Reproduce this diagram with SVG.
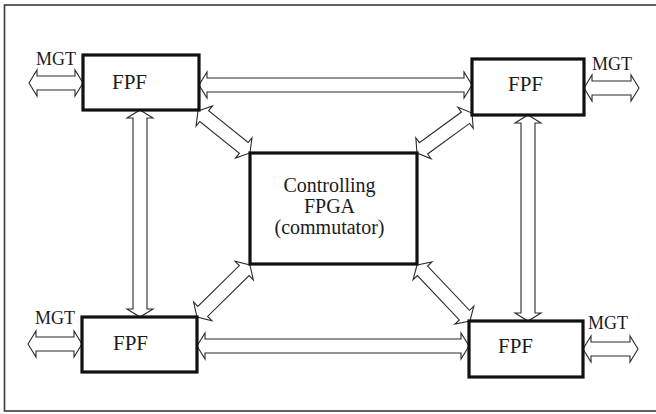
<svg xmlns="http://www.w3.org/2000/svg" width="656" height="414" viewBox="0 0 656 414">
  <style>
    .frame { fill: #ffffff; stroke: #3a3a3a; stroke-width: 1.6; }
    .box { fill: #ffffff; stroke: #111111; stroke-width: 3.2; }
    .lbl { font-family: "Liberation Serif", "Times New Roman", serif; fill: #1a1a1a; }
    .big { font-size: 21px; }
    .mid { font-size: 20px; }
    .mgt { font-size: 18px; }
    .arr { fill: #ffffff; stroke: #2a2a2a; stroke-width: 1.1; stroke-linejoin: miter; }
  </style>

  <!-- outer frame (right edge runs off the canvas) -->
  <rect class="frame" x="4.5" y="5" width="660" height="406"/>

  <!-- hollow double-headed connectors: tip at origin, along +x; head 8 long, 13 half-wide, shaft 7 half-wide -->
  <g id="connectors">
    <!-- MGT links -->
    <path class="arr" transform="translate(29,83)" d="M0,0 L8,-13 L8,-7 L46,-7 L46,-13 L54,0 L46,13 L46,7 L8,7 L8,13 Z"/>
    <path class="arr" transform="translate(584,88)" d="M0,0 L8,-13 L8,-7 L47,-7 L47,-13 L55,0 L47,13 L47,7 L8,7 L8,13 Z"/>
    <path class="arr" transform="translate(28,344)" d="M0,0 L8,-13 L8,-7 L46,-7 L46,-13 L54,0 L46,13 L46,7 L8,7 L8,13 Z"/>
    <path class="arr" transform="translate(583,349)" d="M0,0 L8,-13 L8,-7 L47,-7 L47,-13 L55,0 L47,13 L47,7 L8,7 L8,13 Z"/>
    <!-- FPF to FPF, horizontal -->
    <path class="arr" transform="translate(199,85)" d="M0,0 L8,-13 L8,-7 L265,-7 L265,-13 L273,0 L265,13 L265,7 L8,7 L8,13 Z"/>
    <path class="arr" transform="translate(197,346)" d="M0,0 L8,-13 L8,-7 L264,-7 L264,-13 L272,0 L264,13 L264,7 L8,7 L8,13 Z"/>
    <!-- FPF to FPF, vertical -->
    <path class="arr" transform="translate(140,110) rotate(90)" d="M0,0 L8,-13 L8,-7 L199,-7 L199,-13 L207,0 L199,13 L199,7 L8,7 L8,13 Z"/>
    <path class="arr" transform="translate(528,115) rotate(90)" d="M0,0 L8,-13 L8,-7 L198,-7 L198,-13 L206,0 L198,13 L198,7 L8,7 L8,13 Z"/>
    <!-- FPF to controlling FPGA, diagonal -->
    <path class="arr" transform="translate(198,111) rotate(38.9)" d="M0,0 L8,-13 L8,-7 L58.8,-7 L58.8,-13 L66.8,0 L58.8,13 L58.8,7 L8,7 L8,13 Z"/>
    <path class="arr" transform="translate(417,153) rotate(-36)" d="M0,0 L8,-13 L8,-7 L60,-7 L60,-13 L68,0 L60,13 L60,7 L8,7 L8,13 Z"/>
    <path class="arr" transform="translate(197,317) rotate(-44.5)" d="M0,0 L8,-13 L8,-7 L66.2,-7 L66.2,-13 L74.2,0 L66.2,13 L66.2,7 L8,7 L8,13 Z"/>
    <path class="arr" transform="translate(417,265) rotate(46.6)" d="M0,0 L8,-13 L8,-7 L69,-7 L69,-13 L77,0 L69,13 L69,7 L8,7 L8,13 Z"/>
  </g>

  <!-- nodes -->
  <g id="fpf-top-left">
    <rect class="box" x="83" y="55" width="116" height="55"/>
    <text class="lbl big" x="112" y="89">FPF</text>
  </g>
  <g id="fpf-top-right">
    <rect class="box" x="472" y="59" width="112" height="56"/>
    <text class="lbl big" x="508" y="91">FPF</text>
  </g>
  <g id="fpf-bottom-left">
    <rect class="box" x="82" y="317" width="115" height="55"/>
    <text class="lbl big" x="113" y="350">FPF</text>
  </g>
  <g id="fpf-bottom-right">
    <rect class="box" x="469" y="321" width="114" height="56"/>
    <text class="lbl big" x="498" y="353">FPF</text>
  </g>
  <g id="controller">
    <rect class="box" x="250" y="153" width="167" height="111"/>
    <text class="lbl mid" x="329.5" y="192" text-anchor="middle">Controlling</text>
    <text class="lbl mid" x="329.5" y="213" text-anchor="middle">FPGA</text>
    <text class="lbl mid" x="329.5" y="234" text-anchor="middle">(commutator)</text>
  </g>

  <!-- MGT labels -->
  <g id="mgt-labels">
    <text class="lbl mgt" x="36" y="65">MGT</text>
    <text class="lbl mgt" x="592" y="70">MGT</text>
    <text class="lbl mgt" x="35" y="324">MGT</text>
    <text class="lbl mgt" x="588" y="329">MGT</text>
  </g>
</svg>
